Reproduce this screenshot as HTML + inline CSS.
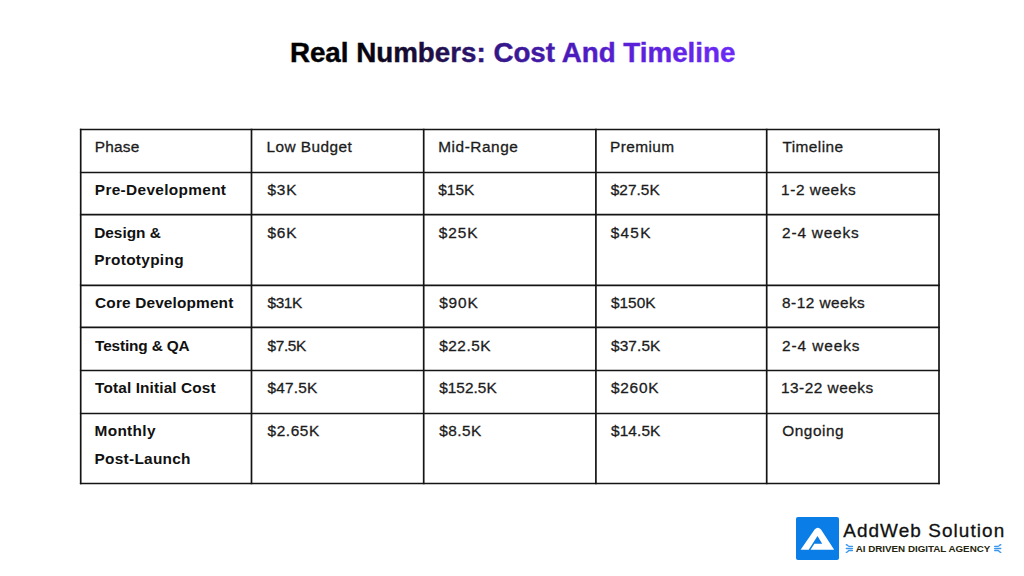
<!DOCTYPE html>
<html><head><meta charset="utf-8">
<style>
html,body{margin:0;padding:0;background:#fff;}
body{width:1024px;height:576px;position:relative;overflow:hidden;font-family:"Liberation Sans",sans-serif;}
.c{position:absolute;font-family:"Liberation Sans",sans-serif;font-size:15.4px;line-height:20px;white-space:nowrap;}
.r{font-weight:400;color:#1c1c1c;-webkit-text-stroke:0.3px #1c1c1c;}
.b{font-weight:700;color:#111;}
svg{position:absolute;left:0;top:0;}
</style></head><body>
<svg width="1024" height="576" viewBox="0 0 1024 576">
<defs><linearGradient id="tg" gradientUnits="userSpaceOnUse" x1="290" y1="0" x2="736" y2="0">
<stop offset="0" stop-color="#000"/><stop offset="0.157" stop-color="#050310"/><stop offset="0.303" stop-color="#1c0e40"/>
<stop offset="0.471" stop-color="#36188a"/><stop offset="0.617" stop-color="#4a1ab8"/><stop offset="0.762" stop-color="#5a20d8"/><stop offset="1" stop-color="#6c2af6"/>
</linearGradient></defs>
<text x="289.9" y="61.9" textLength="445.5" lengthAdjust="spacingAndGlyphs" font-family="Liberation Sans" font-weight="700" font-size="27.3" fill="url(#tg)" stroke="url(#tg)" stroke-width="0.4">Real Numbers: Cost And Timeline</text>
<g stroke="#141414" stroke-width="1.7" fill="none">
<line x1="79.9" y1="129.5" x2="939.8" y2="129.5"/>
<line x1="79.9" y1="172.5" x2="939.8" y2="172.5"/>
<line x1="79.9" y1="214.6" x2="939.8" y2="214.6"/>
<line x1="79.9" y1="285.4" x2="939.8" y2="285.4"/>
<line x1="79.9" y1="327.3" x2="939.8" y2="327.3"/>
<line x1="79.9" y1="370.5" x2="939.8" y2="370.5"/>
<line x1="79.9" y1="413.5" x2="939.8" y2="413.5"/>
<line x1="79.9" y1="483.5" x2="939.8" y2="483.5"/>
<line x1="80.7" y1="128.7" x2="80.7" y2="484.3"/>
<line x1="251.5" y1="128.7" x2="251.5" y2="484.3"/>
<line x1="423.7" y1="128.7" x2="423.7" y2="484.3"/>
<line x1="595.9" y1="128.7" x2="595.9" y2="484.3"/>
<line x1="766.7" y1="128.7" x2="766.7" y2="484.3"/>
<line x1="939.0" y1="128.7" x2="939.0" y2="484.3"/>
</g>
<rect x="796" y="517" width="43" height="43" rx="2" fill="#0a7de6"/>
<path d="M800.6 549.8 L814.6 529.6 Q817.8 525.8 821 529.6 L834.2 549.8 L810.5 549.8 L814.4 543.7 L822.2 543.7 L817.5 536 L808.7 549.8 Z" fill="#fff"/>
<g stroke="#3a97ee" stroke-width="1.35" fill="none" stroke-linecap="round">
<path d="M846.3 544.7 C847.7 544.7 848 546.4 849.2 546.4 L852.4 546.4"/>
<path d="M846.3 548.5 L852.4 548.5"/>
<path d="M852.4 550.5 L849.2 550.5 C848 550.5 847.7 552.4 846.3 552.4"/>
<path d="M1000.8 544.7 C999.4 544.7 999.1 546.4 997.9 546.4 L994.7 546.4"/>
<path d="M1000.8 548.5 L994.7 548.5"/>
<path d="M994.7 550.5 L997.9 550.5 C999.1 550.5 999.4 552.4 1000.8 552.4"/>
</g>
<g transform="translate(843.2 536.6) scale(1.04 1)"><text x="0" y="0" textLength="154.8" lengthAdjust="spacing" font-family="Liberation Sans" font-size="18.2" fill="#111" stroke="#111" stroke-width="0.3">AddWeb Solution</text></g>
<text x="855.7" y="552.2" textLength="134.6" lengthAdjust="spacing" font-family="Liberation Sans" font-weight="700" font-size="9.8" fill="#24230b">AI DRIVEN DIGITAL AGENCY</text>
</svg>
<div class="c r" style="left:94.70px;top:137.01px;letter-spacing:0.250px">Phase</div>
<div class="c r" style="left:266.40px;top:137.01px;letter-spacing:0.467px">Low Budget</div>
<div class="c r" style="left:438.20px;top:137.01px;letter-spacing:0.550px">Mid-Range</div>
<div class="c r" style="left:610.00px;top:137.01px;letter-spacing:0.433px">Premium</div>
<div class="c r" style="left:782.40px;top:137.01px;letter-spacing:0.457px">Timeline</div>
<div class="c b" style="left:94.80px;top:179.81px;letter-spacing:0.329px">Pre-Development</div>
<div class="c r" style="left:267.50px;top:179.91px;letter-spacing:0.800px">$3K</div>
<div class="c r" style="left:438.30px;top:179.91px;letter-spacing:0.000px">$15K</div>
<div class="c r" style="left:610.70px;top:179.91px;letter-spacing:0.040px">$27.5K</div>
<div class="c r" style="left:781.10px;top:179.91px;letter-spacing:0.550px">1-2 weeks</div>
<div class="c b" style="left:94.20px;top:223.21px;letter-spacing:0.000px">Design &amp;</div>
<div class="c b" style="left:94.20px;top:249.71px;letter-spacing:0.300px">Prototyping</div>
<div class="c r" style="left:267.50px;top:223.11px;letter-spacing:0.800px">$6K</div>
<div class="c r" style="left:438.70px;top:223.11px;letter-spacing:0.933px">$25K</div>
<div class="c r" style="left:610.70px;top:223.11px;letter-spacing:1.267px">$45K</div>
<div class="c r" style="left:782.10px;top:223.11px;letter-spacing:0.800px">2-4 weeks</div>
<div class="c b" style="left:95.10px;top:293.41px;letter-spacing:0.147px">Core Development</div>
<div class="c r" style="left:267.50px;top:293.41px;letter-spacing:-0.400px">$31K</div>
<div class="c r" style="left:439.20px;top:293.41px;letter-spacing:0.867px">$90K</div>
<div class="c r" style="left:611.00px;top:293.41px;letter-spacing:0.000px">$150K</div>
<div class="c r" style="left:782.10px;top:293.41px;letter-spacing:0.444px">8-12 weeks</div>
<div class="c b" style="left:95.10px;top:336.31px;letter-spacing:-0.164px">Testing &amp; QA</div>
<div class="c r" style="left:267.50px;top:336.31px;letter-spacing:-0.350px">$7.5K</div>
<div class="c r" style="left:439.20px;top:336.31px;letter-spacing:0.520px">$22.5K</div>
<div class="c r" style="left:611.00px;top:336.31px;letter-spacing:0.120px">$37.5K</div>
<div class="c r" style="left:782.10px;top:336.31px;letter-spacing:0.900px">2-4 weeks</div>
<div class="c b" style="left:95.10px;top:378.21px;letter-spacing:0.118px">Total Initial Cost</div>
<div class="c r" style="left:267.50px;top:378.21px;letter-spacing:0.200px">$47.5K</div>
<div class="c r" style="left:439.20px;top:378.21px;letter-spacing:0.033px">$152.5K</div>
<div class="c r" style="left:611.00px;top:378.21px;letter-spacing:0.750px">$260K</div>
<div class="c r" style="left:780.90px;top:378.21px;letter-spacing:0.500px">13-22 weeks</div>
<div class="c b" style="left:94.50px;top:421.01px;letter-spacing:0.333px">Monthly</div>
<div class="c b" style="left:94.50px;top:449.21px;letter-spacing:0.280px">Post-Launch</div>
<div class="c r" style="left:267.50px;top:421.11px;letter-spacing:0.600px">$2.65K</div>
<div class="c r" style="left:439.20px;top:421.11px;letter-spacing:0.450px">$8.5K</div>
<div class="c r" style="left:611.00px;top:421.11px;letter-spacing:0.120px">$14.5K</div>
<div class="c r" style="left:782.20px;top:421.21px;letter-spacing:0.533px">Ongoing</div>
</body></html>
